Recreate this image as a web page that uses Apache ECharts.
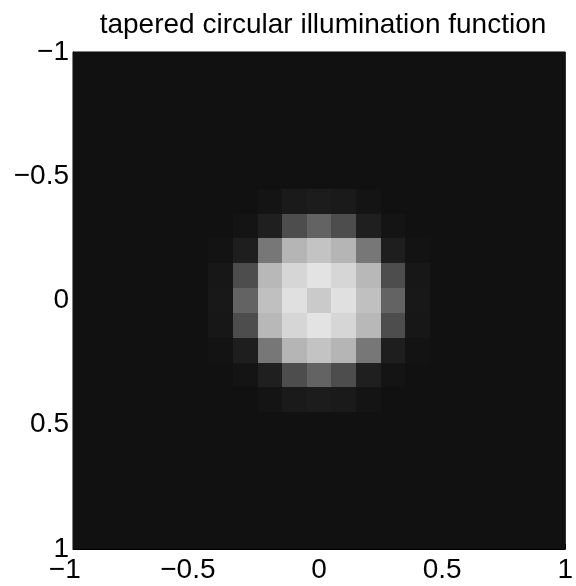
<!DOCTYPE html>
<html>
<head>
<meta charset="utf-8">
<script src="https://cdn.jsdelivr.net/npm/echarts@6/dist/echarts.min.js"></script>
<style>
html,body{margin:0;padding:0;background:#ffffff;}
#chart{width:576px;height:586px;}
</style>
</head>
<body>
<div id="chart"></div>
<script>
// ---- data ----
const titleText = 'tapered circular illumination function';
const xCoords = [-1.0,-0.9,-0.8,-0.7,-0.6,-0.5,-0.4,-0.3,-0.2,-0.1,0.0,0.1,0.2,0.3,0.4,0.5,0.6,0.7,0.8,0.9,1.0];
const yCoords = [-1.0,-0.9,-0.8,-0.7,-0.6,-0.5,-0.4,-0.3,-0.2,-0.1,0.0,0.1,0.2,0.3,0.4,0.5,0.6,0.7,0.8,0.9,1.0];
const tickValues = [-1, -0.5, 0, 0.5, 1];
const tickLabels = ['\u22121', '\u22120.5', '0', '0.5', '1'];
// intensity[row][col]: row follows yCoords, col follows xCoords
const intensity = [
 [0,0,0,0,0,0,0,0,0,0,0,0,0,0,0,0,0,0,0,0,0],
 [0,0,0,0,0,0,0,0,0,0,0,0,0,0,0,0,0,0,0,0,0],
 [0,0,0,0,0,0,0,0,0,0,0,0,0,0,0,0,0,0,0,0,0],
 [0,0,0,0,0,0,0,0,0,0,0,0,0,0,0,0,0,0,0,0,0],
 [0,0,0,0,0,0,0,0,0,0,0,0,0,0,0,0,0,0,0,0,0],
 [0,0,0,0,0,0,0,0,0,0,0,0,0,0,0,0,0,0,0,0,0],
 [0,0,0,0,0,0,0,0,0.013,0.038,0.046,0.038,0.013,0,0,0,0,0,0,0,0],
 [0,0,0,0,0,0,0,0.013,0.059,0.252,0.345,0.252,0.059,0.013,0,0,0,0,0,0,0],
 [0,0,0,0,0,0,0.008,0.055,0.429,0.689,0.748,0.689,0.429,0.055,0.008,0,0,0,0,0,0],
 [0,0,0,0,0,0,0.025,0.252,0.702,0.828,0.882,0.828,0.702,0.252,0.025,0,0,0,0,0,0],
 [0,0,0,0,0,0,0.029,0.345,0.735,0.870,0.777,0.870,0.735,0.345,0.029,0,0,0,0,0,0],
 [0,0,0,0,0,0,0.025,0.252,0.702,0.828,0.882,0.828,0.702,0.252,0.025,0,0,0,0,0,0],
 [0,0,0,0,0,0,0.008,0.055,0.429,0.689,0.748,0.689,0.429,0.055,0.008,0,0,0,0,0,0],
 [0,0,0,0,0,0,0,0.013,0.059,0.252,0.345,0.252,0.059,0.013,0,0,0,0,0,0,0],
 [0,0,0,0,0,0,0,0,0.013,0.038,0.046,0.038,0.013,0,0,0,0,0,0,0,0],
 [0,0,0,0,0,0,0,0,0,0,0,0,0,0,0,0,0,0,0,0,0],
 [0,0,0,0,0,0,0,0,0,0,0,0,0,0,0,0,0,0,0,0,0],
 [0,0,0,0,0,0,0,0,0,0,0,0,0,0,0,0,0,0,0,0,0],
 [0,0,0,0,0,0,0,0,0,0,0,0,0,0,0,0,0,0,0,0,0],
 [0,0,0,0,0,0,0,0,0,0,0,0,0,0,0,0,0,0,0,0,0],
 [0,0,0,0,0,0,0,0,0,0,0,0,0,0,0,0,0,0,0,0,0]
];

// ---- build series data ----
const cells = [];
for (let r = 0; r < yCoords.length; r++) {
  for (let c = 0; c < xCoords.length; c++) {
    cells.push([xCoords[c], yCoords[r], intensity[r][c]]);
  }
}
const stepX = xCoords[1] - xCoords[0];
const stepY = yCoords[1] - yCoords[0];

const FONT = 'Liberation Sans';
function labelFor(v) {
  for (let i = 0; i < tickValues.length; i++) {
    if (Math.abs(tickValues[i] - v) < 1e-9) return tickLabels[i];
  }
  return '';
}

const chart = echarts.init(document.getElementById('chart'), null, {renderer: 'canvas'});
const option = {
  animation: false,
  backgroundColor: '#ffffff',
  title: {
    text: titleText,
    left: 318,
    top: 6,
    textAlign: 'center',
    textStyle: {fontFamily: FONT, fontSize: 28, fontWeight: 'normal', color: '#000'}
  },
  grid: {left: 73, top: 52, width: 497, height: 497, show: true, backgroundColor: '#111111', borderColor: '#000', borderWidth: 1, containLabel: false},
  visualMap: {
    type: 'continuous', show: false, min: 0, max: 1, dimension: 2, seriesIndex: 0,
    inRange: {color: ['#111111', '#ffffff']}
  },
  xAxis: {
    type: 'value', min: -1, max: 1, interval: 0.5, position: 'bottom',
    axisLine: {show: true, onZero: false, lineStyle: {color: '#000', width: 1}},
    axisTick: {show: true, inside: true, length: 5, lineStyle: {color: '#000'}},
    splitLine: {show: false},
    axisLabel: {
      show: true, margin: 7, showMinLabel: true, showMaxLabel: true, hideOverlap: false,
      fontFamily: FONT, fontSize: 28, color: '#000',
      formatter: function (v) {
        const t = labelFor(v);
        return v < 0 ? t + '{g|\u2212}' : t;
      },
      rich: {g: {fontFamily: FONT, fontSize: 28, color: 'rgba(0,0,0,0)'}}
    }
  },
  yAxis: {
    type: 'value', min: -1, max: 1, interval: 0.5, inverse: true, position: 'left',
    axisLine: {show: true, onZero: false, lineStyle: {color: '#000', width: 1}},
    axisTick: {show: true, inside: true, length: 5, lineStyle: {color: '#000'}},
    splitLine: {show: false},
    axisLabel: {
      show: true, margin: 4, showMinLabel: true, showMaxLabel: true, hideOverlap: false,
      fontFamily: FONT, fontSize: 28, color: '#000',
      formatter: function (v) { return labelFor(v); }
    }
  },
  series: [{
    type: 'custom',
    coordinateSystem: 'cartesian2d',
    data: cells,
    encode: {x: 0, y: 1},
    renderItem: function (params, api) {
      const x = api.value(0), y = api.value(1);
      const p0 = api.coord([x - stepX / 2, y - stepY / 2]);
      const p1 = api.coord([x + stepX / 2, y + stepY / 2]);
      const x0 = Math.round(Math.min(p0[0], p1[0]));
      const x1 = Math.round(Math.max(p0[0], p1[0]));
      const y0 = Math.round(Math.min(p0[1], p1[1]));
      const y1 = Math.round(Math.max(p0[1], p1[1]));
      const cs = params.coordSys;
      const shape = echarts.graphic.clipRectByRect(
        {x: x0, y: y0, width: x1 - x0, height: y1 - y0},
        {x: cs.x, y: cs.y, width: cs.width, height: cs.height}
      );
      if (!shape) return;
      return {type: 'rect', shape: shape, style: {fill: api.visual('color')}};
    }
  }]
};
chart.setOption(option);
</script>
</body>
</html>
